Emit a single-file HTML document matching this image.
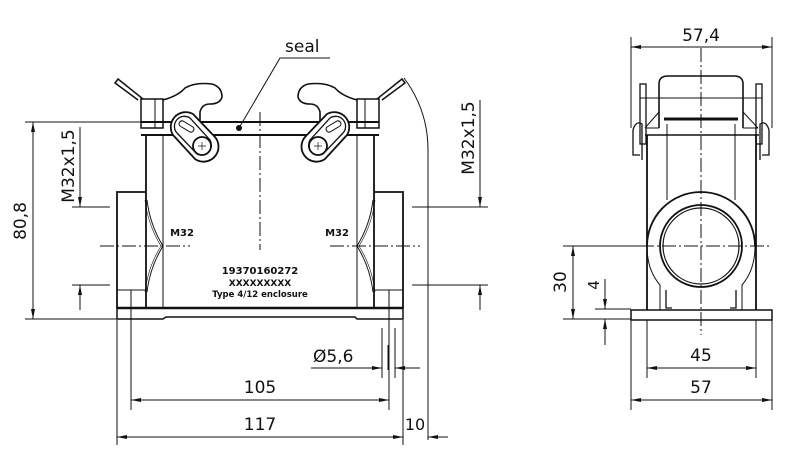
<!DOCTYPE html>
<html><head><meta charset="utf-8"><style>
html,body{margin:0;padding:0;background:#fff}
svg{display:block}
text{font-family:"DejaVu Sans","Liberation Sans",sans-serif;fill:#111}
</style></head><body>
<svg width="800" height="471" viewBox="0 0 800 471" xmlns="http://www.w3.org/2000/svg">
<defs>
<marker id="a" viewBox="0 0 10 4" refX="10" refY="2" markerWidth="10" markerHeight="4" orient="auto-start-reverse" markerUnits="userSpaceOnUse"><path d="M0,0L10,2L0,4z" fill="#111"/></marker>
</defs>
<g fill="none" stroke="#111" stroke-width="1">
<!-- base plate -->
<path d="M117,308H403V319H357L355,317H166L163,319H117Z" stroke-width="1.5"/>
<line x1="117" y1="308" x2="403" y2="308" stroke-width="2.5"/>
<!-- body -->
<path d="M146,135V308M374,135V308" stroke-width="1.8"/>
<path d="M163,135V308M357,135V308"/>
<path d="M146,192H117V308M374,192H403V308" stroke-width="1.8"/>
<path d="M117,290H146M374,290H403"/>
<path d="M131,290V330M389,290V330"/>
<path d="M147,200Q150,225 163,246Q150,267 147,292M373,200Q370,225 357,246Q370,267 373,292"/>
<path d="M145,200Q148,225 161,246Q148,267 145,292M375,200Q372,225 359,246Q372,267 375,292" stroke-width="0.6"/>
<path d="M141,122H379M141,135H379" stroke-width="2"/>
<rect x="141" y="99" width="22" height="29" stroke-width="1.5"/>
<rect x="357" y="99" width="22" height="29" stroke-width="1.5"/>
<path d="M155,99V128M365,99V128"/>
<path d="M143,99L118,79L115,83L138,100" stroke-width="1.5"/>
<path d="M377,99L402,79L405,83L382,100" stroke-width="1.5"/>
<path d="M163,100Q178,96 185,88Q195,82 212,84Q222,87 222,97Q220,104 210,104Q202,104 200,112V122" stroke-width="1.6"/>
<path d="M357,100Q342,96 335,88Q325,82 308,84Q298,87 298,97Q300,104 310,104Q318,104 320,112V122" stroke-width="1.6"/>
<g stroke-width="1.8" fill="#fff">
<path d="M173,135 L195,159 A15,15 0 0 0 215,137 L193,114 A15,15 0 0 0 173,135Z"/>
<path d="M347,135 L325,159 A15,15 0 0 1 305,137 L327,114 A15,15 0 0 1 347,135Z"/>
</g>
<path d="M177,133L197,154A10,10 0 0 0 210,140L190,118A10,10 0 0 0 177,133Z" stroke-width="1.3"/>
<path d="M343,133L323,154A10,10 0 0 1 310,140L330,118A10,10 0 0 1 343,133Z" stroke-width="1.3"/>
<path d="M180,126L190,132A3,3 0 0 0 193,127L183,121A3,3 0 0 0 180,126Z"/>
<path d="M340,126L330,132A3,3 0 0 1 327,127L337,121A3,3 0 0 1 340,126Z"/>
<circle cx="202" cy="146" r="9" stroke-width="1.8" fill="#fff"/>
<circle cx="318" cy="146" r="9" stroke-width="1.8" fill="#fff"/>
<path d="M198,146h8M202,142v8M314,146h8M318,142v8" stroke-width="0.7"/>
<circle cx="239" cy="128" r="3" fill="#111" stroke="none"/>
<path d="M239,128L280,58H330"/>
<path d="M260,112V250" stroke-dasharray="14,3,2,3"/>
<path d="M100,246H190M330,246H420" stroke-dasharray="14,3,2,3"/>
<path d="M404,78Q428,110 428,150V440"/>
<path d="M25,122H141M25,319H117"/>
<line x1="33" y1="122" x2="33" y2="319" marker-start="url(#a)" marker-end="url(#a)"/>
<path d="M72,207H110M72,285H110"/>
<line x1="80" y1="127" x2="80" y2="207" marker-end="url(#a)"/>
<line x1="80" y1="285" x2="80" y2="310" marker-start="url(#a)"/>
<path d="M412,207H488M412,285H488"/>
<line x1="480" y1="100" x2="480" y2="207" marker-end="url(#a)"/>
<line x1="480" y1="285" x2="480" y2="310" marker-start="url(#a)"/>
<path d="M117,320V445M403,320V445M131,330V410M389,330V410"/>
<line x1="131" y1="400" x2="389" y2="400" marker-start="url(#a)" marker-end="url(#a)"/>
<line x1="117" y1="437" x2="403" y2="437" marker-start="url(#a)" marker-end="url(#a)"/>
<line x1="428" y1="437" x2="448" y2="437" marker-start="url(#a)"/>
<path d="M382,328V378M395,328V378M388,345V370"/>
<line x1="311" y1="368" x2="382" y2="368" marker-end="url(#a)"/>
<line x1="395" y1="368" x2="420" y2="368" marker-start="url(#a)"/>

<!-- SIDE VIEW -->
<path d="M631,310H772V320H631Z" stroke-width="1.5"/>
<path d="M647,135V310M756,135V310" stroke-width="1.8"/>
<path d="M645,135H759" stroke-width="1.5"/>
<path d="M667,124V200M735,124V200"/>
<path d="M659,128V84Q659,76 668,76H734Q743,76 743,84V128" stroke-width="1.6"/>
<path d="M659,98H743"/>
<path d="M640,98H659M743,98H762"/>
<path d="M659,128L646,128M743,128L758,128"/>
<line x1="664" y1="119" x2="738" y2="119" stroke-width="3"/>
<path d="M645,128L659,112M758,128L743,112"/>
<rect x="640" y="84" width="6" height="60" stroke-width="1.3"/>
<rect x="756" y="84" width="6" height="60" stroke-width="1.3"/>
<path d="M633,130Q636,120 642,124V160M769,130Q766,120 760,124V160" stroke-width="1.3"/>
<path d="M633,130V155H640M769,130V155H762" stroke-width="1.3"/>
<path d="M647,246A54,54 0 0 1 755,246" stroke-width="1.8"/>
<path d="M647,246Q647,270 660,285V310M755,246Q755,270 742,285V310"/>
<path d="M666,290V308H672M736,290V308H730" stroke-width="1.3"/>
<circle cx="701" cy="246" r="41" stroke-width="1.8"/>
<circle cx="701" cy="246" r="38" stroke-width="1.2"/>
<path d="M701,48V335M640,246H770" stroke-dasharray="14,3,2,3"/>
<path d="M631,37V128M772,37V128"/>
<line x1="631" y1="47" x2="772" y2="47" marker-start="url(#a)" marker-end="url(#a)"/>
<path d="M631,320V410M772,320V410M647,320V378M756,320V378"/>
<line x1="647" y1="368" x2="756" y2="368" marker-start="url(#a)" marker-end="url(#a)"/>
<line x1="631" y1="400" x2="772" y2="400" marker-start="url(#a)" marker-end="url(#a)"/>
<path d="M563,246H640M563,319H631M595,309H631"/>
<line x1="573" y1="246" x2="573" y2="319" marker-start="url(#a)" marker-end="url(#a)"/>
<line x1="605" y1="279" x2="605" y2="309" marker-end="url(#a)"/>
<line x1="605" y1="319" x2="605" y2="345" marker-start="url(#a)"/>
</g>

<g font-size="17">
<text x="285" y="52">seal</text>
<text x="260" y="393" text-anchor="middle">105</text>
<text x="260" y="430" text-anchor="middle">117</text>
<text x="415" y="430" text-anchor="middle" font-size="16">10</text>
<text x="313" y="362">Ø5,6</text>
<text x="701" y="41" text-anchor="middle">57,4</text>
<text x="701" y="361" text-anchor="middle">45</text>
<text x="701" y="393" text-anchor="middle">57</text>
<text transform="translate(26,221) rotate(-90)" text-anchor="middle">80,8</text>
<text transform="translate(74,166) rotate(-90)" text-anchor="middle">M32x1,5</text>
<text transform="translate(474,138) rotate(-90)" text-anchor="middle">M32x1,5</text>
<text transform="translate(566,282) rotate(-90)" text-anchor="middle">30</text>
<text transform="translate(599,285) rotate(-90)" text-anchor="middle" font-size="15">4</text>
</g>
<g font-weight="bold" font-family="Liberation Sans" text-anchor="middle">
<text x="182" y="236" font-size="10">M32</text>
<text x="337" y="236" font-size="10">M32</text>
<text x="260" y="274" font-size="10">19370160272</text>
<text x="260" y="286" font-size="9">XXXXXXXXX</text>
<text x="260" y="297" font-size="8.5">Type 4/12 enclosure</text>
</g>
</svg>
</body></html>
